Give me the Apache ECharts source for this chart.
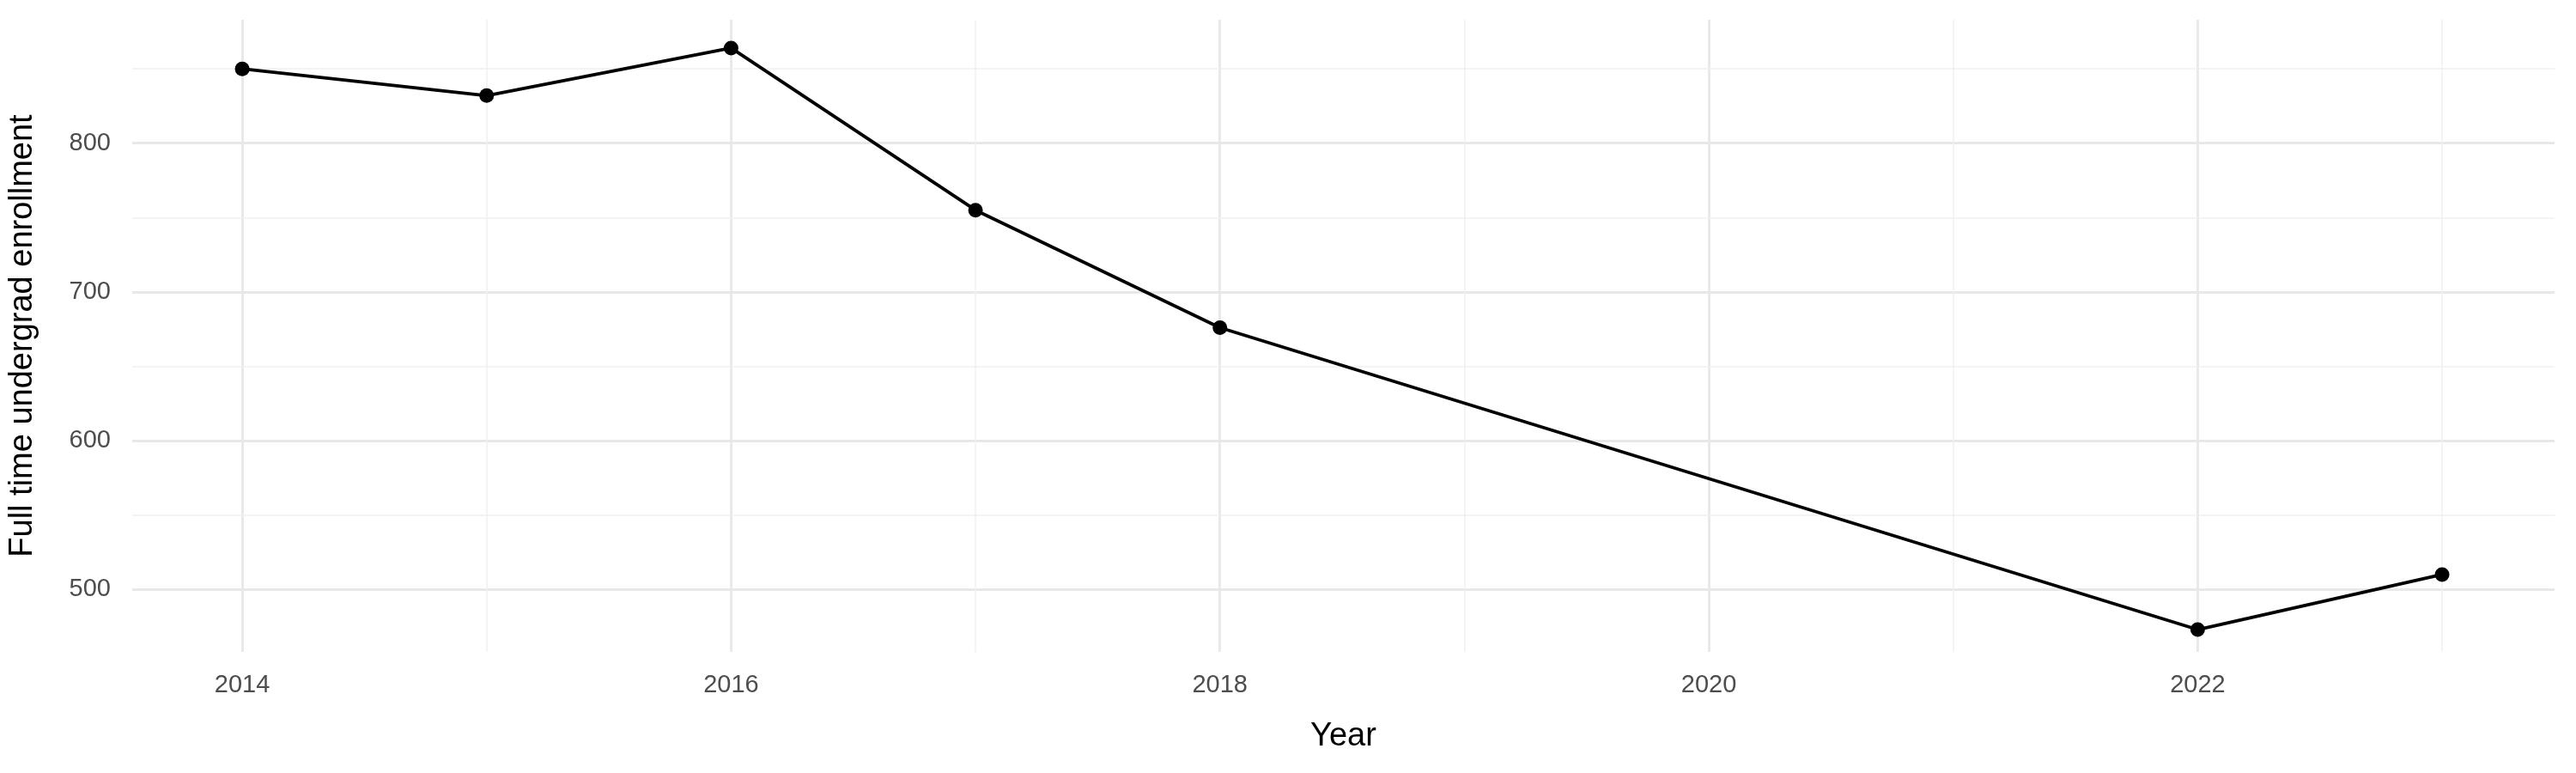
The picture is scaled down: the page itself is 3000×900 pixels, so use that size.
<!DOCTYPE html>
<html>
<head>
<meta charset="utf-8">
<script src="https://cdn.jsdelivr.net/npm/echarts@6/dist/echarts.min.js"></script>
<style>html,body{margin:0;padding:0;background:#fff}#chart{width:3000px;height:900px}</style>
</head>
<body>
<div id="chart"></div>
<script>
const years = [2014, 2015, 2016, 2017, 2018, 2022, 2023];
const enrollment = [850, 832, 864, 755, 676, 473, 510];
const xMajor = [2014, 2016, 2018, 2020, 2022];
const xMinor = [2015, 2017, 2019, 2021, 2023];
const yMajor = [500, 600, 700, 800];
const yMinor = [550, 650, 750, 850];

const chart = echarts.init(document.getElementById("chart"));
const minorLines = xMinor.map((v) => ({ xAxis: v }))
  .concat(yMinor.map((v) => ({ yAxis: v })));

chart.setOption({
  animation: false,
  grid: { left: 153, right: 25, top: 23, bottom: 141 },
  xAxis: {
    type: "value",
    min: 2013.55,
    max: 2023.46,
    name: "Year",
    nameLocation: "middle",
    nameGap: 80,
    nameTextStyle: { fontSize: 38, color: "#000", fontFamily: "Liberation Sans" },
    axisLine: { show: false },
    axisTick: { show: false, customValues: xMajor },
    axisLabel: { customValues: xMajor, formatter: (v) => String(v), fontSize: 29, color: "#4d4d4d", margin: 24, fontFamily: "Liberation Sans" },
    splitLine: { show: true, lineStyle: { color: "#e8e8e8", width: 2.8 } },
  },
  yAxis: {
    type: "value",
    min: 458,
    max: 883,
    name: "Full time undergrad enrollment",
    nameLocation: "middle",
    nameGap: 108,
    nameTextStyle: { fontSize: 38, color: "#000", fontFamily: "Liberation Sans" },
    axisLine: { show: false },
    axisTick: { show: false, customValues: yMajor },
    axisLabel: { customValues: yMajor, fontSize: 29, color: "#4d4d4d", margin: 25, fontFamily: "Liberation Sans" },
    splitLine: { show: true, lineStyle: { color: "#e8e8e8", width: 2.8 } },
  },
  series: [
    {
      type: "line",
      data: years.map((y, i) => [y, enrollment[i]]),
      symbol: "circle",
      symbolSize: 17,
      itemStyle: { color: "#000" },
      lineStyle: { color: "#000", width: 3.8 },
      z: 5,
      markLine: {
        silent: true,
        symbol: "none",
        label: { show: false },
        lineStyle: { color: "#f0f0f0", width: 1.5, type: "solid" },
        data: minorLines,
        z: 1,
      },
    },
  ],
});
</script>
</body>
</html>
